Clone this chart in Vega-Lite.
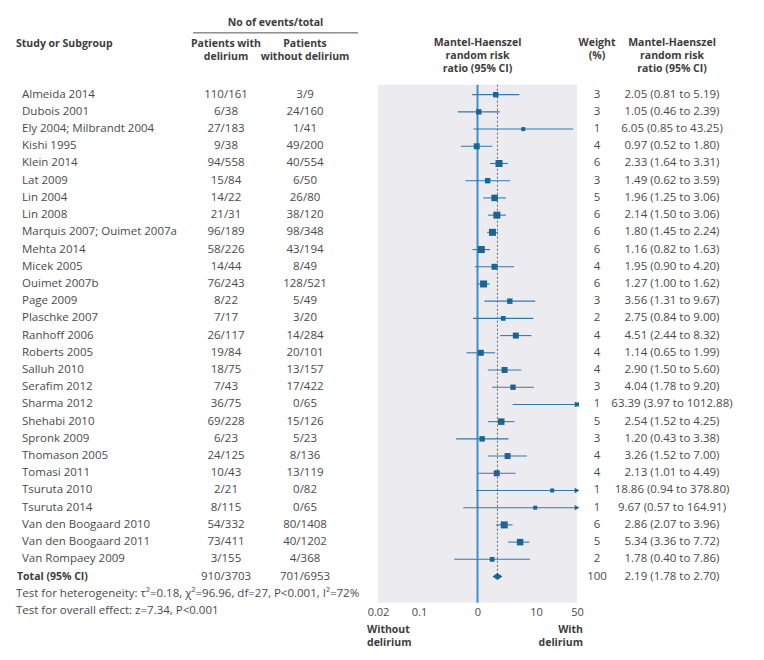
{
  "$schema": "https://vega.github.io/schema/vega-lite/v6.json",
  "background": "white",
  "padding": {"left": 16, "top": 0, "right": 0, "bottom": 0},
  "autosize": {"type": "pad"},
  "bounds": "flush",
  "spacing": 0,
  "config": {
    "view": {"stroke": null},
    "text": {"font": "Open Sans", "fontSize": 11.5, "color": "#4a4a4a", "baseline": "middle"}
  },
  "datasets": {
    "studies": [
      {"row": 0, "study": "Almeida 2014", "with": "110/161", "without": "3/9", "weight": 3, "rr": 2.05, "lo": 0.81, "hi": 5.19, "ci": "2.05 (0.81 to 5.19)"},
      {"row": 1, "study": "Dubois 2001", "with": "6/38", "without": "24/160", "weight": 3, "rr": 1.05, "lo": 0.46, "hi": 2.39, "ci": "1.05 (0.46 to 2.39)"},
      {"row": 2, "study": "Ely 2004; Milbrandt 2004", "with": "27/183", "without": "1/41", "weight": 1, "rr": 6.05, "lo": 0.85, "hi": 43.25, "ci": "6.05 (0.85 to 43.25)"},
      {"row": 3, "study": "Kishi 1995", "with": "9/38", "without": "49/200", "weight": 4, "rr": 0.97, "lo": 0.52, "hi": 1.80, "ci": "0.97 (0.52 to 1.80)"},
      {"row": 4, "study": "Klein 2014", "with": "94/558", "without": "40/554", "weight": 6, "rr": 2.33, "lo": 1.64, "hi": 3.31, "ci": "2.33 (1.64 to 3.31)"},
      {"row": 5, "study": "Lat 2009", "with": "15/84", "without": "6/50", "weight": 3, "rr": 1.49, "lo": 0.62, "hi": 3.59, "ci": "1.49 (0.62 to 3.59)"},
      {"row": 6, "study": "Lin 2004", "with": "14/22", "without": "26/80", "weight": 5, "rr": 1.96, "lo": 1.25, "hi": 3.06, "ci": "1.96 (1.25 to 3.06)"},
      {"row": 7, "study": "Lin 2008", "with": "21/31", "without": "38/120", "weight": 6, "rr": 2.14, "lo": 1.50, "hi": 3.06, "ci": "2.14 (1.50 to 3.06)"},
      {"row": 8, "study": "Marquis 2007; Ouimet 2007a", "with": "96/189", "without": "98/348", "weight": 6, "rr": 1.80, "lo": 1.45, "hi": 2.24, "ci": "1.80 (1.45 to 2.24)"},
      {"row": 9, "study": "Mehta 2014", "with": "58/226", "without": "43/194", "weight": 6, "rr": 1.16, "lo": 0.82, "hi": 1.63, "ci": "1.16 (0.82 to 1.63)"},
      {"row": 10, "study": "Micek 2005", "with": "14/44", "without": "8/49", "weight": 4, "rr": 1.95, "lo": 0.90, "hi": 4.20, "ci": "1.95 (0.90 to 4.20)"},
      {"row": 11, "study": "Ouimet 2007b", "with": "76/243", "without": "128/521", "weight": 6, "rr": 1.27, "lo": 1.00, "hi": 1.62, "ci": "1.27 (1.00 to 1.62)"},
      {"row": 12, "study": "Page 2009", "with": "8/22", "without": "5/49", "weight": 3, "rr": 3.56, "lo": 1.31, "hi": 9.67, "ci": "3.56 (1.31 to 9.67)"},
      {"row": 13, "study": "Plaschke 2007", "with": "7/17", "without": "3/20", "weight": 2, "rr": 2.75, "lo": 0.84, "hi": 9.00, "ci": "2.75 (0.84 to 9.00)"},
      {"row": 14, "study": "Ranhoff 2006", "with": "26/117", "without": "14/284", "weight": 4, "rr": 4.51, "lo": 2.44, "hi": 8.32, "ci": "4.51 (2.44 to 8.32)"},
      {"row": 15, "study": "Roberts 2005", "with": "19/84", "without": "20/101", "weight": 4, "rr": 1.14, "lo": 0.65, "hi": 1.99, "ci": "1.14 (0.65 to 1.99)"},
      {"row": 16, "study": "Salluh 2010", "with": "18/75", "without": "13/157", "weight": 4, "rr": 2.90, "lo": 1.50, "hi": 5.60, "ci": "2.90 (1.50 to 5.60)"},
      {"row": 17, "study": "Serafim 2012", "with": "7/43", "without": "17/422", "weight": 3, "rr": 4.04, "lo": 1.78, "hi": 9.20, "ci": "4.04 (1.78 to 9.20)"},
      {"row": 18, "study": "Sharma 2012", "with": "36/75", "without": "0/65", "weight": 1, "rr": 63.39, "lo": 3.97, "hi": 1012.88, "ci": "63.39 (3.97 to 1012.88)"},
      {"row": 19, "study": "Shehabi 2010", "with": "69/228", "without": "15/126", "weight": 5, "rr": 2.54, "lo": 1.52, "hi": 4.25, "ci": "2.54 (1.52 to 4.25)"},
      {"row": 20, "study": "Spronk 2009", "with": "6/23", "without": "5/23", "weight": 3, "rr": 1.20, "lo": 0.43, "hi": 3.38, "ci": "1.20 (0.43 to 3.38)"},
      {"row": 21, "study": "Thomason 2005", "with": "24/125", "without": "8/136", "weight": 4, "rr": 3.26, "lo": 1.52, "hi": 7.00, "ci": "3.26 (1.52 to 7.00)"},
      {"row": 22, "study": "Tomasi 2011", "with": "10/43", "without": "13/119", "weight": 4, "rr": 2.13, "lo": 1.01, "hi": 4.49, "ci": "2.13 (1.01 to 4.49)"},
      {"row": 23, "study": "Tsuruta 2010", "with": "2/21", "without": "0/82", "weight": 1, "rr": 18.86, "lo": 0.94, "hi": 378.80, "ci": "18.86 (0.94 to 378.80)"},
      {"row": 24, "study": "Tsuruta 2014", "with": "8/115", "without": "0/65", "weight": 1, "rr": 9.67, "lo": 0.57, "hi": 164.91, "ci": "9.67 (0.57 to 164.91)"},
      {"row": 25, "study": "Van den Boogaard 2010", "with": "54/332", "without": "80/1408", "weight": 6, "rr": 2.86, "lo": 2.07, "hi": 3.96, "ci": "2.86 (2.07 to 3.96)"},
      {"row": 26, "study": "Van den Boogaard 2011", "with": "73/411", "without": "40/1202", "weight": 5, "rr": 5.34, "lo": 3.36, "hi": 7.72, "ci": "5.34 (3.36 to 7.72)"},
      {"row": 27, "study": "Van Rompaey 2009", "with": "3/155", "without": "4/368", "weight": 2, "rr": 1.78, "lo": 0.40, "hi": 7.86, "ci": "1.78 (0.40 to 7.86)"},
      {"row": 28, "study": "Total (95% CI)", "with": "910/3703", "without": "701/6953", "weight": 100, "rr": 2.19, "lo": 1.78, "hi": 2.70, "ci": "2.19 (1.78 to 2.70)"}
    ],
    "footer": [
      {"row": 29, "note": "Test for heterogeneity: τ²=0.18, χ²=96.96, df=27, P<0.001, I²=72%"},
      {"row": 30, "note": "Test for overall effect: z=7.34, P<0.001"}
    ]
  },
  "hconcat": [
    {
      "width": 177, "height": 660,
      "layer": [
        {"data": {"name": "studies"}, "transform": [{"filter": "datum.weight < 100"}], "mark": {"type": "text", "align": "left"},
         "encoding": {"x": {"value": 6}, "y": {"field": "row", "type": "quantitative", "scale": {"domain": [-5.5, 32.85], "reverse": true, "nice": false, "zero": false}, "axis": null}, "text": {"field": "study"}}},
        {"data": {"name": "studies"}, "transform": [{"filter": "datum.weight >= 100"}], "mark": {"type": "text", "align": "left", "fontWeight": "bold", "fontSize": 10.5, "color": "#3c3c3c"},
         "encoding": {"x": {"value": 1}, "y": {"field": "row", "type": "quantitative"}, "text": {"field": "study"}}},
        {"data": {"name": "footer"}, "mark": {"type": "text", "align": "left"},
         "encoding": {"x": {"value": 0}, "y": {"field": "row", "type": "quantitative"}, "text": {"field": "note"}}},
        {"data": {"values": [{}]}, "mark": {"type": "text", "align": "left", "fontWeight": "bold", "fontSize": 10.5, "color": "#3c3c3c", "text": "Study or Subgroup"},
         "encoding": {"x": {"value": 0}, "y": {"datum": -2.95}}}
      ]
    },
    {
      "width": 165, "height": 660,
      "layer": [
        {"data": {"name": "studies"}, "transform": [{"fold": ["with", "without"], "as": ["col", "val"]}], "mark": {"type": "text"},
         "encoding": {
           "x": {"field": "col", "type": "nominal", "scale": {"type": "point", "domain": ["with", "without"], "padding": 0.544, "align": 0.384}, "axis": null},
           "y": {"field": "row", "type": "quantitative", "scale": {"domain": [-5.5, 32.85], "reverse": true, "nice": false, "zero": false}, "axis": null},
           "text": {"field": "val"}}},
        {"data": {"values": [{"col": "with", "h": "Patients with\ndelirium"}, {"col": "without", "h": "Patients\nwithout delirium"}]},
         "mark": {"type": "text", "fontWeight": "bold", "fontSize": 10.5, "color": "#3c3c3c", "lineBreak": "\n", "lineHeight": 13},
         "encoding": {"x": {"field": "col", "type": "nominal"}, "y": {"datum": -2.97}, "text": {"field": "h"}}},
        {"data": {"values": [{}]}, "mark": {"type": "text", "fontWeight": "bold", "fontSize": 10.5, "color": "#3c3c3c", "text": "No of events/total"},
         "encoding": {"y": {"datum": -4.17}}},
        {"data": {"values": [{}]}, "mark": {"type": "rule", "color": "#555555", "strokeWidth": 1},
         "encoding": {"y": {"datum": -3.59}}}
      ]
    },
    {
      "width": 219, "height": 660,
      "layer": [
        {"data": {"values": [{}]}, "mark": {"type": "rect", "color": "#ececf0"},
         "encoding": {
           "x": {"datum": 0.02, "type": "quantitative", "scale": {"type": "log", "domain": [0.0091, 50], "clamp": true, "nice": false},
                 "axis": {"orient": "bottom", "offset": -57, "values": [0.02, 0.1, 1, 10, 50], "labelExpr": "datum.value == 1 ? '0' : format(datum.value, '~g')", "domain": false, "ticks": false, "tickSize": 0, "grid": false, "title": null, "labelFont": "Open Sans", "labelFontSize": 11, "labelColor": "#4a4a4a", "labelPadding": 3, "labelFlush": false, "labelOverlap": false}},
           "x2": {"datum": 50},
           "y": {"datum": -0.58, "type": "quantitative", "scale": {"domain": [-5.5, 32.85], "reverse": true, "nice": false, "zero": false}, "axis": null},
           "y2": {"datum": 29.52}}},
        {"data": {"values": [{}]}, "mark": {"type": "rule", "color": "#3d8ec9", "strokeWidth": 2},
         "encoding": {"x": {"datum": 1}, "y": {"datum": -0.58}, "y2": {"datum": 29.52}}},
        {"data": {"name": "studies"}, "transform": [{"filter": "datum.weight >= 100"}], "mark": {"type": "rule", "color": "#666666", "strokeWidth": 1, "strokeDash": [2, 2]},
         "encoding": {"x": {"field": "rr", "type": "quantitative"}, "y": {"datum": -0.58}, "y2": {"datum": 28}}},
        {"data": {"name": "studies"}, "transform": [{"filter": "datum.weight < 100"}], "mark": {"type": "rule", "color": "#3479ad", "strokeWidth": 1.1},
         "encoding": {"x": {"field": "lo", "type": "quantitative"}, "x2": {"field": "hi"}, "y": {"field": "row", "type": "quantitative"}}},
        {"data": {"name": "studies"}, "transform": [{"filter": "datum.weight < 100"}], "mark": {"type": "point", "shape": "square", "filled": true, "color": "#1b6494", "opacity": 1},
         "encoding": {"x": {"field": "rr", "type": "quantitative"}, "y": {"field": "row", "type": "quantitative"}, "size": {"field": "weight", "type": "quantitative", "scale": {"domain": [1, 6], "range": [16, 49]}, "legend": null}}},
        {"data": {"name": "studies"}, "transform": [{"filter": "datum.hi > 50"}], "mark": {"type": "point", "shape": "triangle-right", "filled": true, "color": "#1b6494", "opacity": 1, "size": 28},
         "encoding": {"x": {"field": "hi", "type": "quantitative"}, "y": {"field": "row", "type": "quantitative"}}},
        {"data": {"name": "studies"}, "transform": [{"filter": "datum.weight >= 100"}], "mark": {"type": "point", "shape": "M-1,0L0,-0.7L1,0L0,0.7Z", "filled": true, "color": "#1b6494", "opacity": 1, "size": 100},
         "encoding": {"x": {"field": "rr", "type": "quantitative"}, "y": {"field": "row", "type": "quantitative"}}},
        {"data": {"values": [{}]}, "mark": {"type": "text", "fontWeight": "bold", "fontSize": 10.5, "color": "#3c3c3c", "lineBreak": "\n", "lineHeight": 13, "text": "Mantel-Haenszel\nrandom risk\nratio (95% CI)"},
         "encoding": {"x": {"datum": 1}, "y": {"datum": -3.0}}},
        {"data": {"values": [{}]}, "mark": {"type": "text", "fontWeight": "bold", "fontSize": 10.5, "color": "#3c3c3c", "align": "left", "dx": -11, "lineBreak": "\n", "lineHeight": 13, "text": "Without\ndelirium"},
         "encoding": {"x": {"datum": 0.02}, "y": {"datum": 31.1}}},
        {"data": {"values": [{}]}, "mark": {"type": "text", "fontWeight": "bold", "fontSize": 10.5, "color": "#3c3c3c", "align": "right", "dx": 6, "lineBreak": "\n", "lineHeight": 13, "text": "With\ndelirium"},
         "encoding": {"x": {"datum": 50}, "y": {"datum": 31.1}}}
      ]
    },
    {
      "width": 40, "height": 660,
      "layer": [
        {"data": {"name": "studies"}, "mark": {"type": "text"},
         "encoding": {"y": {"field": "row", "type": "quantitative", "scale": {"domain": [-5.5, 32.85], "reverse": true, "nice": false, "zero": false}, "axis": null}, "text": {"field": "weight", "type": "quantitative"}}},
        {"data": {"values": [{}]}, "mark": {"type": "text", "fontWeight": "bold", "fontSize": 10.5, "color": "#3c3c3c", "lineBreak": "\n", "lineHeight": 13, "text": "Weight\n(%)"},
         "encoding": {"y": {"datum": -3.0}}}
      ]
    },
    {
      "width": 110, "height": 660,
      "layer": [
        {"data": {"name": "studies"}, "mark": {"type": "text"},
         "encoding": {"y": {"field": "row", "type": "quantitative", "scale": {"domain": [-5.5, 32.85], "reverse": true, "nice": false, "zero": false}, "axis": null}, "text": {"field": "ci"}}},
        {"data": {"values": [{}]}, "mark": {"type": "text", "fontWeight": "bold", "fontSize": 10.5, "color": "#3c3c3c", "lineBreak": "\n", "lineHeight": 13, "text": "Mantel-Haenszel\nrandom risk\nratio (95% CI)"},
         "encoding": {"y": {"datum": -3.0}}}
      ]
    }
  ]
}
